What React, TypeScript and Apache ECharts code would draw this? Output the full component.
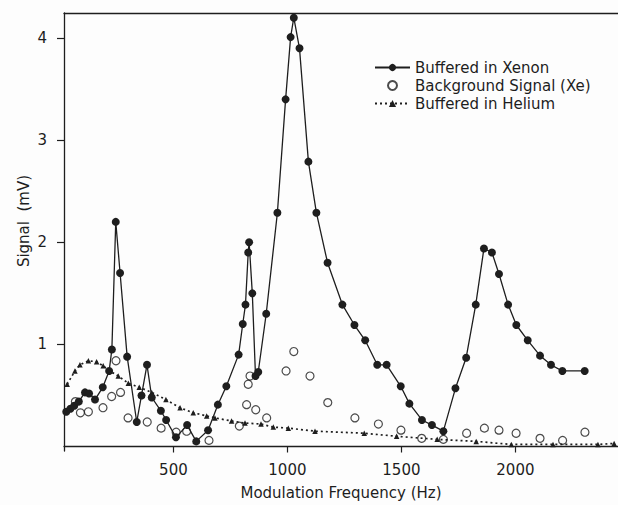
import React, { useEffect, useRef } from "react";
import * as echarts from "echarts";

const xenonHz = [30, 48, 65, 85, 112, 130, 156, 190, 218, 230, 247, 266, 297, 339, 360, 384, 405, 445, 468, 511, 560, 600, 652, 695, 732, 786, 804, 816, 828, 832, 846, 860, 872, 907, 956, 992, 1014, 1028, 1053, 1092, 1127, 1176, 1241, 1294, 1341, 1394, 1435, 1497, 1535, 1590, 1634, 1684, 1737, 1784, 1826, 1862, 1897, 1928, 1968, 2004, 2054, 2108, 2156, 2206, 2304];
const xenonMv = [0.34, 0.37, 0.40, 0.44, 0.53, 0.52, 0.46, 0.58, 0.74, 0.95, 2.2, 1.7, 0.88, 0.24, 0.5, 0.8, 0.48, 0.35, 0.26, 0.09, 0.21, 0.05, 0.16, 0.41, 0.59, 0.9, 1.2, 1.39, 1.9, 2.0, 1.5, 0.69, 0.73, 1.3, 2.29, 3.4, 4.01, 4.2, 3.9, 2.79, 2.29, 1.8, 1.39, 1.19, 1.04, 0.8, 0.8, 0.59, 0.42, 0.26, 0.21, 0.15, 0.57, 0.87, 1.39, 1.94, 1.9, 1.69, 1.39, 1.19, 1.04, 0.89, 0.8, 0.74, 0.74];

const backgroundHz = [70, 92, 127, 191, 229, 248, 268, 301, 385, 446, 512, 558, 656, 789, 821, 828, 836, 861, 909, 994, 1028, 1099, 1177, 1296, 1399, 1498, 1589, 1684, 1786, 1864, 1928, 2003, 2108, 2207, 2305];
const backgroundMv = [0.44, 0.33, 0.34, 0.38, 0.49, 0.84, 0.53, 0.28, 0.24, 0.18, 0.14, 0.15, 0.06, 0.2, 0.41, 0.61, 0.69, 0.36, 0.28, 0.74, 0.93, 0.69, 0.43, 0.28, 0.22, 0.16, 0.08, 0.07, 0.13, 0.18, 0.16, 0.13, 0.08, 0.06, 0.14];

const heliumHz = [34, 68, 90, 127, 163, 192, 222, 258, 302, 350, 405, 467, 529, 587, 646, 682, 755, 814, 884, 938, 1004, 1121, 1337, 1479, 1657, 1828, 1982, 2165, 2362, 2433];
const heliumMv = [0.61, 0.74, 0.80, 0.84, 0.83, 0.79, 0.74, 0.69, 0.62, 0.58, 0.53, 0.46, 0.38, 0.33, 0.30, 0.28, 0.25, 0.23, 0.22, 0.19, 0.18, 0.15, 0.13, 0.10, 0.07, 0.05, 0.02, 0.02, 0.02, 0.03];

const xTicks = [500, 1000, 1500, 2000];
const yTicks = [1, 2, 3, 4];

const seriesNames = ["Buffered in Xenon", "Background Signal (Xe)", "Buffered in Helium"];

const zip = (xs: number[], ys: number[]) => xs.map((x, i) => [x, ys[i]]);

const INK = "#1e1e1e";
const FONT = "DejaVu Sans";

export default function App() {
  const ref = useRef<HTMLDivElement>(null);
  useEffect(() => {
    if (!ref.current) return;
    const chart = echarts.init(ref.current, undefined, { renderer: "svg" });
    const xMin = 20, xMax = 2450, yMin = -0.044, yMax = 4.246;
    chart.setOption({
      animation: false,
      backgroundColor: "#fdfdfd",
      textStyle: { fontFamily: FONT, color: INK },
      grid: { left: 64, top: 13, right: 0, bottom: 53 },
      legend: {
        orient: "vertical",
        left: 369,
        top: 55,
        itemGap: 3,
        itemWidth: 35,
        itemHeight: 9,
        data: seriesNames,
        textStyle: { fontFamily: FONT, fontSize: 15, color: INK },
      },
      xAxis: [
        {
          type: "value",
          min: xMin,
          max: xMax,
          position: "bottom",
          axisLine: { show: true, lineStyle: { color: INK, width: 1.3 } },
          axisTick: { show: true, length: 6, customValues: xTicks, lineStyle: { color: INK, width: 1.2 } },
          axisLabel: {
            customValues: xTicks,
            margin: 11,
            fontSize: 15,
            color: INK,
            fontFamily: FONT,
            formatter: (v: number) => String(v),
          },
          splitLine: { show: false },
          name: "Modulation Frequency (Hz)",
          nameLocation: "middle",
          nameGap: 34,
          nameTextStyle: { fontSize: 15, color: INK, fontFamily: FONT },
        },
        {
          type: "value",
          min: xMin,
          max: xMax,
          position: "top",
          axisLine: { show: true, lineStyle: { color: INK, width: 1.3 } },
          axisTick: { show: false },
          axisLabel: { show: false },
          splitLine: { show: false },
        },
      ],
      yAxis: {
        type: "value",
        min: yMin,
        max: yMax,
        axisLine: { show: true, lineStyle: { color: INK, width: 1.3 } },
        axisTick: { show: true, length: 7, customValues: yTicks, lineStyle: { color: INK, width: 1.2 } },
        axisLabel: {
          customValues: yTicks,
          margin: 17,
          fontSize: 15,
          color: INK,
          fontFamily: FONT,
          formatter: (v: number) => String(v),
        },
        splitLine: { show: false },
      },
      graphic: [
        {
          type: "text",
          x: 24,
          y: 221,
          rotation: Math.PI / 2,
          style: {
            text: "Signal  (mV)",
            fontSize: 15,
            fontFamily: FONT,
            fill: INK,
            align: "center",
            verticalAlign: "middle",
          },
        },
      ],
      series: [
        {
          name: "Buffered in Helium",
          type: "line",
          data: zip(heliumHz, heliumMv),
          symbol: "triangle",
          symbolSize: 5.5,
          itemStyle: { color: INK },
          lineStyle: { color: INK, width: 1.7, type: [2, 3] },
          z: 2,
        },
        {
          name: "Background Signal (Xe)",
          type: "scatter",
          data: zip(backgroundHz, backgroundMv),
          symbol: "circle",
          symbolSize: 8,
          itemStyle: { color: "rgba(255,255,255,0)", borderColor: INK, borderWidth: 1.2 },
          z: 3,
        },
        {
          name: "Buffered in Xenon",
          type: "line",
          data: zip(xenonHz, xenonMv),
          symbol: "circle",
          symbolSize: 8,
          itemStyle: { color: INK },
          lineStyle: { color: INK, width: 1.3 },
          z: 4,
        },
      ],
    });
    return () => chart.dispose();
  }, []);
  return (
    <div
      ref={ref}
      style={{ position: "absolute", left: 0, top: 0, width: 618, height: 505 }}
    />
  );
}
